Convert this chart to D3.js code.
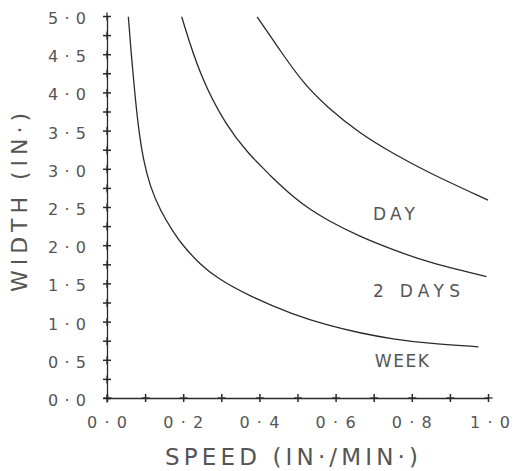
<!DOCTYPE html>
<html>
<head>
<meta charset="utf-8">
<script src="https://cdn.jsdelivr.net/npm/d3@7/dist/d3.min.js"></script>
<style>
  html, body { margin: 0; padding: 0; background: #fff; }
  svg { display: block; }
  text { font-family: "DejaVu Sans", sans-serif; fill: #555; }
</style>
</head>
<body>
<svg id="chart" width="515" height="471"></svg>
<script>
// Exposure curves: plate width needed at each travel speed
const weekSpeed = [0.056, 0.065, 0.073, 0.082, 0.095, 0.113, 0.139, 0.174, 0.200, 0.244, 0.288, 0.375, 0.489, 0.577, 0.664, 0.751, 0.839, 0.975];
const weekWidth = [4.99, 4.42, 3.99, 3.55, 3.12, 2.77, 2.46, 2.17, 1.99, 1.75, 1.57, 1.33, 1.09, 0.955, 0.85, 0.77, 0.716, 0.67];

const twoDaySpeed = [0.196, 0.244, 0.314, 0.375, 0.402, 0.428, 0.498, 0.533, 0.577, 0.664, 0.751, 0.839, 0.996];
const twoDayWidth = [4.99, 4.21, 3.55, 3.18, 3.05, 2.91, 2.59, 2.47, 2.33, 2.11, 1.94, 1.78, 1.59];

const daySpeed = [0.394, 0.454, 0.515, 0.577, 0.664, 0.751, 0.839, 1.0];
const dayWidth = [4.99, 4.55, 4.12, 3.81, 3.46, 3.20, 2.96, 2.59];

const curveLabels = ["DAY", "2 DAYS", "WEEK"];

const speedTicks = [0, 0.1, 0.2, 0.3, 0.4, 0.5, 0.6, 0.7, 0.8, 0.9, 1.0];
const speedTickLabels = ["0·0", "0·2", "0·4", "0·6", "0·8", "1·0"];
const widthTicks = [0, 0.25, 0.5, 0.75, 1, 1.25, 1.5, 1.75, 2, 2.25, 2.5, 2.75, 3, 3.25, 3.5, 3.75, 4, 4.25, 4.5, 4.75, 5];
const widthTickLabels = ["0·0", "0·5", "1·0", "1·5", "2·0", "2·5", "3·0", "3·5", "4·0", "4·5", "5·0"];

const xTitle = "SPEED (IN·/MIN·)";
const yTitle = "WIDTH (IN·)";

const svg = d3.select("#chart");
const x = d3.scaleLinear().domain([0, 1]).range([107, 488]);
const y = d3.scaleLinear().domain([0, 5]).range([398, 16]);

const ink = "#2a2a2a";
const arm = 4;

// X axis with cross-shaped ticks
const xAxisG = svg.append("g")
  .attr("transform", `translate(0,${y(0)})`)
  .call(d3.axisBottom(x).tickValues(speedTicks).tickSize(arm).tickSizeOuter(0).tickFormat(() => ""));
xAxisG.select(".domain").attr("stroke", ink).attr("stroke-width", 1.3);
xAxisG.selectAll(".tick line").attr("y1", -arm).attr("y2", arm).attr("stroke", ink).attr("stroke-width", 1.5);
xAxisG.selectAll(".tick").append("line")
  .attr("x1", -arm).attr("x2", arm).attr("stroke", ink).attr("stroke-width", 1.3);
xAxisG.selectAll(".tick text").remove();

// Y axis with cross-shaped ticks
const yAxisG = svg.append("g")
  .attr("transform", `translate(${x(0)},0)`)
  .call(d3.axisLeft(y).tickValues(widthTicks).tickSize(arm).tickSizeOuter(0).tickFormat(() => ""));
yAxisG.select(".domain").attr("stroke", ink).attr("stroke-width", 1.3);
yAxisG.selectAll(".tick line").attr("x1", arm).attr("x2", -arm).attr("stroke", ink).attr("stroke-width", 1.5);
yAxisG.selectAll(".tick").append("line")
  .attr("y1", -arm).attr("y2", arm).attr("stroke", ink).attr("stroke-width", 1.3);
yAxisG.selectAll(".tick text").remove();

// Tick labels
svg.append("g").selectAll("text")
  .data(speedTickLabels)
  .join("text")
  .attr("x", (d, i) => x(i * 0.2) + (i === 5 ? 2 : 0))
  .attr("y", 428)
  .attr("text-anchor", "middle")
  .attr("font-size", 16)
  .attr("textLength", 40)
  .attr("lengthAdjust", "spacing")
  .text(d => d);

svg.append("g").selectAll("text")
  .data(widthTickLabels)
  .join("text")
  .attr("x", 86)
  .attr("y", (d, i) => y(i * 0.5) + 8)
  .attr("text-anchor", "end")
  .attr("font-size", 16)
  .attr("textLength", 38)
  .attr("lengthAdjust", "spacing")
  .text(d => d);

// Axis titles
svg.append("text")
  .attr("x", 165).attr("y", 465)
  .attr("font-size", 23)
  .attr("textLength", 253)
  .attr("lengthAdjust", "spacing")
  .text(xTitle);

svg.append("text")
  .attr("transform", "translate(27,292) rotate(-90)")
  .attr("font-size", 22)
  .attr("textLength", 179)
  .attr("lengthAdjust", "spacing")
  .text(yTitle);

// Curves
const line = d3.line()
  .x(d => x(d[0]))
  .y(d => y(d[1]))
  .curve(d3.curveBasis);

const series = [
  d3.zip(daySpeed, dayWidth),
  d3.zip(twoDaySpeed, twoDayWidth),
  d3.zip(weekSpeed, weekWidth)
];

svg.append("g").selectAll("path")
  .data(series)
  .join("path")
  .attr("d", line)
  .attr("fill", "none")
  .attr("stroke", ink)
  .attr("stroke-width", 1.3);

// Curve labels, placed under each curve near the right edge
const labelAnchors = [[0.698, 2.33, 42], [0.698, 1.32, 87], [0.703, 0.41, 54]];
svg.append("g").selectAll("text")
  .data(curveLabels)
  .join("text")
  .attr("x", (d, i) => x(labelAnchors[i][0]))
  .attr("y", (d, i) => y(labelAnchors[i][1]))
  .attr("font-size", 17)
  .attr("textLength", (d, i) => labelAnchors[i][2])
  .attr("lengthAdjust", "spacing")
  .text(d => d);
</script>
</body>
</html>
